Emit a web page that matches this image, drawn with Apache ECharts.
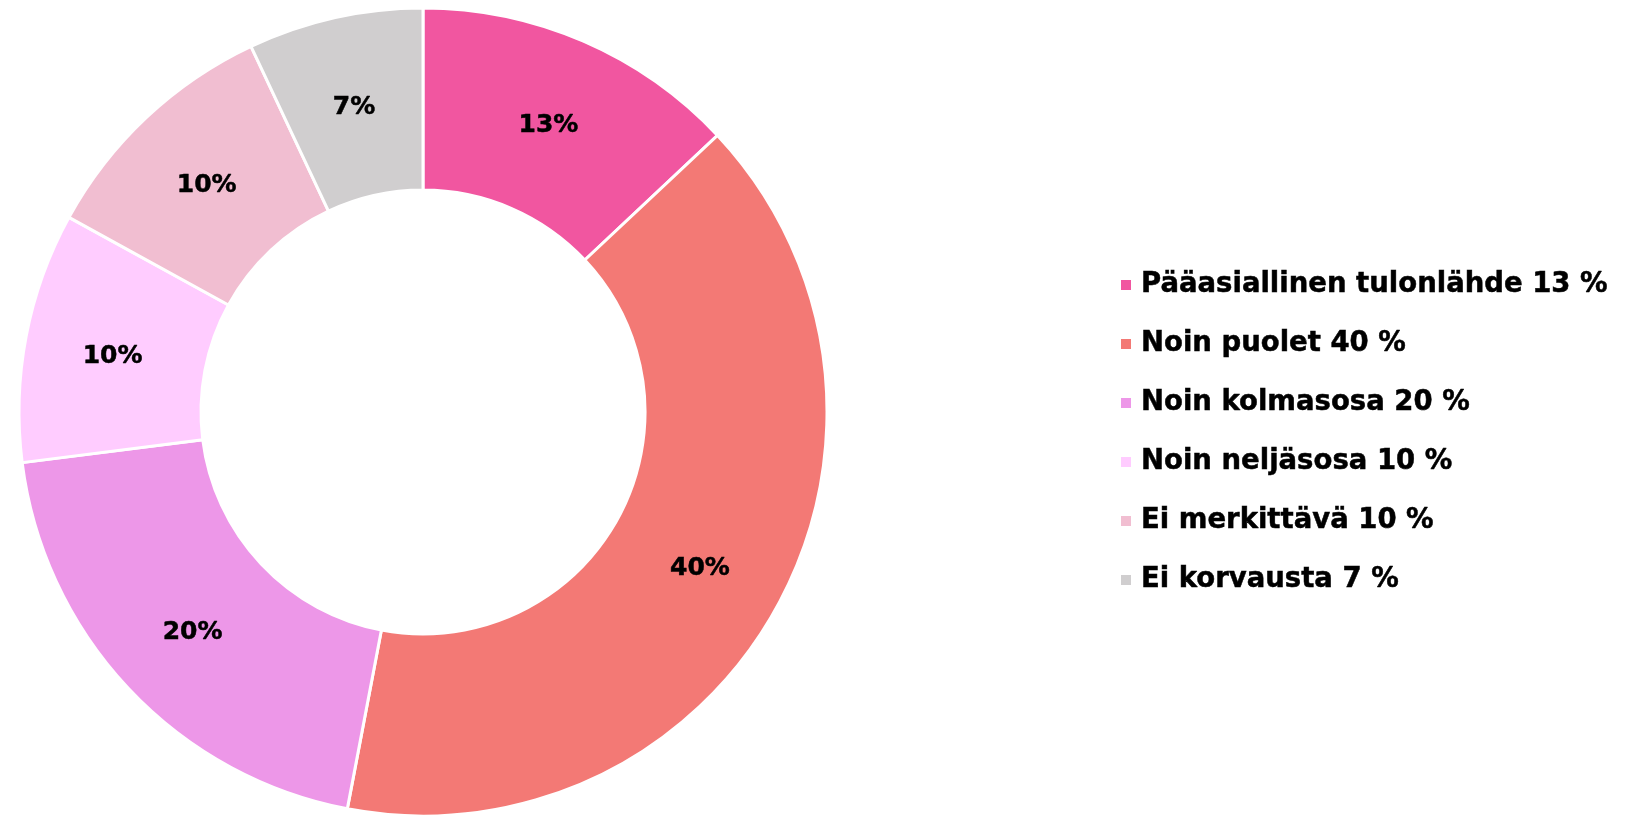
<!DOCTYPE html>
<html>
<head>
<meta charset="utf-8">
<script src="https://cdn.jsdelivr.net/npm/echarts@6/dist/echarts.min.js"></script>
<style>
  html, body { margin: 0; padding: 0; background: #fff; }
  #chart { width: 1639px; height: 817px; }
</style>
</head>
<body>
<div id="chart"></div>
<script>
// osuus kokonaistuloista
const categories = ['Pääasiallinen tulonlähde', 'Noin puolet', 'Noin kolmasosa', 'Noin neljäsosa', 'Ei merkittävä', 'Ei korvausta']
const values = [13, 40, 20, 10, 10, 7]
const colors = ['#F156A0', '#F37975', '#ED97E8', '#FFCCFF', '#F1BED1', '#D0CECF']

const chart = echarts.init(document.getElementById('chart'))
const font = '"DejaVu Sans", sans-serif'

chart.setOption({
  color: colors,
  legend: {
    orient: 'vertical',
    left: 1114,
    top: 265,
    itemWidth: 12,
    itemHeight: 12,
    itemGap: 29,
    icon: 'rect',
    data: categories,
    formatter: function(name) {
      const i = categories.indexOf(name)
      return name + ' ' + values[i] + ' %'
    },
    textStyle: {
      fontFamily: font,
      fontWeight: 'bold',
      fontSize: 27.5,
      lineHeight: 30,
      color: '#000',
      textBorderColor: '#000',
      textBorderWidth: 0.5,
      padding: [0, 0, 0, 4]
    }
  },
  series: [
    {
      type: 'pie',
      center: [423, 412],
      radius: [222, 404],
      startAngle: 90,
      clockwise: true,
      silent: true,
      itemStyle: {
        borderColor: '#fff',
        borderWidth: 3
      },
      label: {
        position: 'inside',
        formatter: '{c}%',
        fontFamily: font,
        fontWeight: 'bold',
        fontSize: 25,
        color: '#000',
        textBorderColor: '#000',
        textBorderWidth: 0.5,
        offset: [0, 4]
      },
      labelLine: { show: false },
      data: categories.map((name, i) => ({ name: name, value: values[i] }))
    }
  ]
})
</script>
</body>
</html>
